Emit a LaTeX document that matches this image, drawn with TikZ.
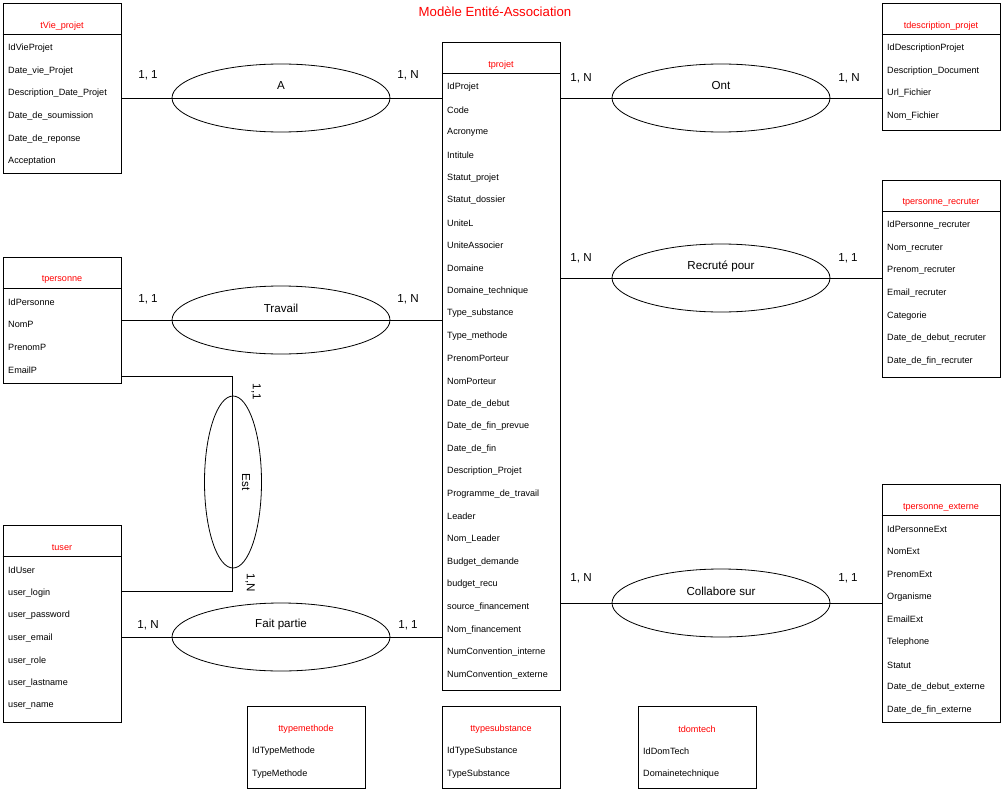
\documentclass[tikz,border=0pt]{standalone}
\usepackage{fontspec}
\setmainfont{Liberation Sans}
\usetikzlibrary{shapes.geometric,fit}

\tikzset{
  tbl/.style={draw,line width=0.9pt,inner sep=0pt},
  titre/.style={text=red,font=\fontsize{9.1}{11}\selectfont},
  champ/.style={anchor=west,inner sep=0pt,font=\fontsize{9.1}{11}\selectfont},
  assoc/.style={ellipse,draw,line width=0.8pt,minimum width=218pt,minimum height=68pt,inner sep=0pt},
  lien/.style={line width=0.8pt},
  card/.style={font=\fontsize{11.6}{13}\selectfont},
  nomassoc/.style={font=\fontsize{11.6}{13}\selectfont},
}

% table : nom, x gauche, y haut, y bas, titre, champs
\newcommand{\entitenue}[6]{%
  \node (#1) [tbl,fit={(#2,#3) (#2+118,#4)}] {};
  \node (#1-t) [titre] at (#2+59,#3+23) {#5};
  \foreach \champ [count=\i] in {#6}
    \node (#1-\i) [champ] at (#2+5,{#3+22.7+22.6*\i}) {\champ};
}
\newcommand{\entite}[6]{%
  \entitenue{#1}{#2}{#3}{#4}{#5}{#6}
  \draw [line width=0.9pt] ([yshift=-32pt]#1.north west) -- ([yshift=-32pt]#1.north east);
}

\begin{document}
\begin{tikzpicture}[x=1pt,y=-1pt]
	\useasboundingbox (0,0) rectangle (1003,789);
	\node (titre) [text=red,font=\fontsize{13.2}{15}\selectfont] at (495,12) {Modèle Entité-Association};

	% entites
	\entite{tvie}{3}{3}{173}{tVie\_projet}{IdVieProjet,Date\_vie\_Projet,Description\_Date\_Projet,Date\_de\_soumission,Date\_de\_reponse,Acceptation}
	\entite{tpersonne}{3}{257}{383}{tpersonne}{IdPersonne,NomP,PrenomP,EmailP}
	\entite{tuser}{3}{525}{722}{tuser}{IdUser,user\_login,user\_password,user\_email,user\_role,user\_lastname,user\_name}
	\entite{tprojet}{442}{42}{690}{tprojet}{IdProjet,Code,Acronyme,Intitule,Statut\_projet,Statut\_dossier,UniteL,UniteAssocier,Domaine,Domaine\_technique,Type\_substance,Type\_methode,PrenomPorteur,NomPorteur,Date\_de\_debut,Date\_de\_fin\_prevue,Date\_de\_fin,Description\_Projet,Programme\_de\_travail,Leader,Nom\_Leader,Budget\_demande,budget\_recu,source\_financement,Nom\_financement,NumConvention\_interne,NumConvention\_externe}
	\entite{tdesc}{882}{3}{130}{tdescription\_projet}{IdDescriptionProjet,Description\_Document,Url\_Fichier,Nom\_Fichier}
	\entite{trecruter}{882}{180}{377}{tpersonne\_recruter}{IdPersonne\_recruter,Nom\_recruter,Prenom\_recruter,Email\_recruter,Categorie,Date\_de\_debut\_recruter,Date\_de\_fin\_recruter}
	\entite{texterne}{882}{484}{722}{tpersonne\_externe}{IdPersonneExt,NomExt,PrenomExt,Organisme,EmailExt,Telephone,Statut,Date\_de\_debut\_externe,Date\_de\_fin\_externe}
	\entitenue{tmethode}{247}{706}{788}{ttypemethode}{IdTypeMethode,TypeMethode}
	\entitenue{tsubstance}{442}{706}{788}{ttypesubstance}{IdTypeSubstance,TypeSubstance}
	\entitenue{tdomtech}{638}{706}{788}{tdomtech}{IdDomTech,Domainetechnique}

	% associations
	\node (A) [assoc] at (281,98) {};
	\node (A-t) [nomassoc] at (281,86) {A};
	\node (A-1) [card] at (148,75) {1, 1};
	\node (A-2) [card] at (408,75) {1, N};
	\draw [lien] (tvie.east |- A) -- (tprojet.west |- A);

	\node (travail) [assoc] at (281,320) {};
	\node (travail-t) [nomassoc] at (281,308) {Travail};
	\node (travail-1) [card] at (148,299) {1, 1};
	\node (travail-2) [card] at (408,299) {1, N};
	\draw [lien] (tpersonne.east |- travail) -- (tprojet.west |- travail);

	\node (fait) [assoc] at (281,637) {};
	\node (fait-t) [nomassoc] at (281,624) {Fait partie};
	\node (fait-1) [card] at (148,625) {1, N};
	\node (fait-2) [card] at (408,625) {1, 1};
	\draw [lien] (tuser.east |- fait) -- (tprojet.west |- fait);

	\node (ont) [assoc] at (721,98) {};
	\node (ont-t) [nomassoc] at (721,86) {Ont};
	\node (ont-1) [card] at (581,78) {1, N};
	\node (ont-2) [card] at (849,78) {1, N};
	\draw [lien] (tprojet.east |- ont) -- (tdesc.west |- ont);

	\node (recrute) [assoc] at (721,278) {};
	\node (recrute-t) [nomassoc] at (721,266) {Recruté pour};
	\node (recrute-1) [card] at (581,258) {1, N};
	\node (recrute-2) [card] at (848,258) {1, 1};
	\draw [lien] (tprojet.east |- recrute) -- (trecruter.west |- recrute);

	\node (collabore) [assoc] at (721,603) {};
	\node (collabore-t) [nomassoc] at (721,591) {Collabore sur};
	\node (collabore-1) [card] at (581,578) {1, N};
	\node (collabore-2) [card] at (848,578) {1, 1};
	\draw [lien] (tprojet.east |- collabore) -- (texterne.west |- collabore);

	\node (est) [assoc,minimum width=57pt,minimum height=172pt] at (233,482) {};
	\node (est-t) [nomassoc,rotate=-90] at (246,482) {Est};
	\node (est-1) [card,rotate=-90] at (256,392) {1,1};
	\node (est-2) [card,rotate=-90] at (250,583) {1,N};
	\coordinate (estH) at (232,376);
	\coordinate (estB) at (232,591);
	\draw [lien] (tpersonne.east |- estH) -- (estH) -- (estB) -- (tuser.east |- estB);
\end{tikzpicture}
\end{document}
